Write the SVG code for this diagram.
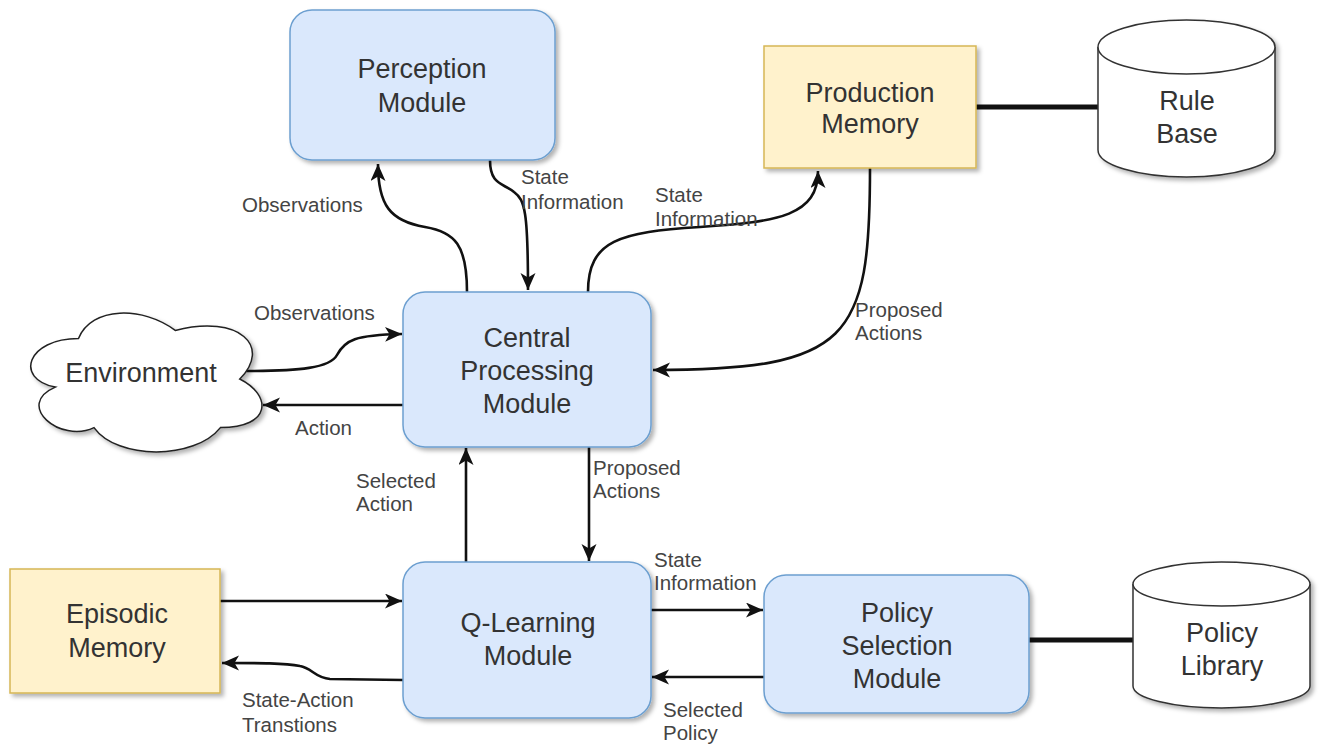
<svg xmlns="http://www.w3.org/2000/svg" width="1325" height="744" viewBox="0 0 1325 744">
  <style>
    .blue { fill: #dae8fc; stroke: #6c9fd0; stroke-width: 1.5; }
    .yellow { fill: #fff2cc; stroke: #d6b656; stroke-width: 1.5; }
    .store { fill: #ffffff; stroke: #333333; stroke-width: 1.5; }
    .cloud { fill: #ffffff; stroke: #222222; stroke-width: 1.5; }
    .node-text { font-family: "Liberation Sans", Arial, sans-serif; font-size: 27px; fill: #333333; text-anchor: middle; }
    .label { font-family: "Liberation Sans", Arial, sans-serif; font-size: 20.5px; fill: #444444; }
    .edge { fill: none; stroke: #111111; stroke-width: 2.6; }
    .link { fill: none; stroke: #111111; stroke-width: 5; }
  </style>
  <defs>
    <marker id="arrow" markerUnits="userSpaceOnUse" markerWidth="20" markerHeight="18" refX="17" refY="7.5" orient="auto">
      <path d="M0,0 L17,7.5 L0,15 L4.5,7.5 Z" fill="#111111"/>
    </marker>
    <filter id="shadow" x="-10%" y="-10%" width="125%" height="125%">
      <feDropShadow dx="3" dy="3" stdDeviation="2" flood-color="#000000" flood-opacity="0.3"/>
    </filter>
  </defs>

  <rect x="0" y="0" width="1325" height="744" fill="#ffffff"/>

  <!-- connectors -->
  <g id="connectors">
    <!-- central -> perception -->
    <path class="edge" marker-end="url(#arrow)" d="M467,292 C467,245 455,232 425,227 C390,221 378,205 378,164"/>
    <!-- perception -> central -->
    <path class="edge" marker-end="url(#arrow)" d="M490,160 C490,185 503,183 514,192 C525,200 528,212 528,290"/>
    <!-- central -> production memory -->
    <path class="edge" marker-end="url(#arrow)" d="M588,292 C588,240 620,232 700,227 C780,222 818,215 818,171"/>
    <!-- production memory -> central -->
    <path class="edge" marker-end="url(#arrow)" d="M870,168 C870,340 850,370 653,370"/>
    <!-- environment -> central -->
    <path class="edge" marker-end="url(#arrow)" d="M245,371 C300,371 330,368 337,355 C345,340 355,335 402,334"/>
    <!-- central -> environment -->
    <path class="edge" marker-end="url(#arrow)" d="M403,405 L263,405"/>
    <!-- q-learning -> central -->
    <path class="edge" marker-end="url(#arrow)" d="M466,562 L466,448"/>
    <!-- central -> q-learning -->
    <path class="edge" marker-end="url(#arrow)" d="M589,447 L589,561"/>
    <!-- episodic memory -> q-learning -->
    <path class="edge" marker-end="url(#arrow)" d="M220,601 L402,601"/>
    <!-- q-learning -> episodic memory -->
    <path class="edge" marker-end="url(#arrow)" d="M403,680 L330,679 C315,678 312,668 300,666 C285,663 260,663 222,663"/>
    <!-- q-learning -> policy selection -->
    <path class="edge" marker-end="url(#arrow)" d="M651,610 L763,610"/>
    <!-- policy selection -> q-learning -->
    <path class="edge" marker-end="url(#arrow)" d="M764,677 L652,677"/>
    <!-- store links -->
    <path class="link" d="M976,107 L1098,107"/>
    <path class="link" d="M1029,640 L1133,640"/>
  </g>

  <!-- connector labels -->
  <g id="edge-labels">
    <text class="label" x="242" y="212">Observations</text>
    <text class="label" x="521" y="184">State</text>
    <text class="label" x="521" y="209">Information</text>
    <text class="label" x="655" y="202">State</text>
    <text class="label" x="655" y="226">Information</text>
    <text class="label" x="855" y="317">Proposed</text>
    <text class="label" x="855" y="340">Actions</text>
    <text class="label" x="254" y="320">Observations</text>
    <text class="label" x="295" y="435">Action</text>
    <text class="label" x="356" y="488">Selected</text>
    <text class="label" x="356" y="511">Action</text>
    <text class="label" x="593" y="475">Proposed</text>
    <text class="label" x="593" y="498">Actions</text>
    <text class="label" x="654" y="567">State</text>
    <text class="label" x="654" y="590">Information</text>
    <text class="label" x="663" y="717">Selected</text>
    <text class="label" x="663" y="740">Policy</text>
    <text class="label" x="242" y="707">State-Action</text>
    <text class="label" x="242" y="732">Transtions</text>
  </g>

  <g id="perception-module">
    <rect class="blue" x="290" y="10" width="265" height="150" rx="22" filter="url(#shadow)"/>
    <text class="node-text" x="422" y="78">Perception</text>
    <text class="node-text" x="422" y="112">Module</text>
  </g>

  <g id="production-memory">
    <rect class="yellow" x="764" y="46" width="212" height="122" filter="url(#shadow)"/>
    <text class="node-text" x="870" y="102">Production</text>
    <text class="node-text" x="870" y="133">Memory</text>
  </g>

  <g id="rule-base">
    <path class="store" filter="url(#shadow)" d="M1098,47 A88.5,27 0 0 1 1275,47 L1275,150 A88.5,27 0 0 1 1098,150 Z"/>
    <path class="store" d="M1098,47 A88.5,27 0 0 0 1275,47"/>
    <text class="node-text" x="1187" y="110">Rule</text>
    <text class="node-text" x="1187" y="143">Base</text>
  </g>

  <g id="environment">
    <path class="cloud" filter="url(#shadow)" d="M78.5,338.5 C26.9,338.5 14,379 55.3,387.1 C14,404.9 60.4,443.8 94,427.6 C117.2,460 194.6,460 220.4,427.6 C272,427.6 272,395.2 239.75,379 C272,346.6 239.75,314.2 175.25,330.4 C143,306.1 91.4,306.1 78.5,338.5 Z"/>
    <text class="node-text" x="141" y="382">Environment</text>
  </g>

  <g id="central-processing-module">
    <rect class="blue" x="403" y="292" width="248" height="155" rx="22" filter="url(#shadow)"/>
    <text class="node-text" x="527" y="347">Central</text>
    <text class="node-text" x="527" y="380">Processing</text>
    <text class="node-text" x="527" y="413">Module</text>
  </g>

  <g id="q-learning-module">
    <rect class="blue" x="403" y="562" width="248" height="156" rx="22" filter="url(#shadow)"/>
    <text class="node-text" x="528" y="632">Q-Learning</text>
    <text class="node-text" x="528" y="665">Module</text>
  </g>

  <g id="episodic-memory">
    <rect class="yellow" x="10" y="569" width="210" height="124" filter="url(#shadow)"/>
    <text class="node-text" x="117" y="623">Episodic</text>
    <text class="node-text" x="117" y="657">Memory</text>
  </g>

  <g id="policy-selection-module">
    <rect class="blue" x="764" y="575" width="265" height="138" rx="22" filter="url(#shadow)"/>
    <text class="node-text" x="897" y="622">Policy</text>
    <text class="node-text" x="897" y="655">Selection</text>
    <text class="node-text" x="897" y="688">Module</text>
  </g>

  <g id="policy-library">
    <path class="store" filter="url(#shadow)" d="M1133,584 A88.5,22 0 0 1 1310,584 L1310,686 A88.5,22 0 0 1 1133,686 Z"/>
    <path class="store" d="M1133,584 A88.5,22 0 0 0 1310,584"/>
    <text class="node-text" x="1222" y="642">Policy</text>
    <text class="node-text" x="1222" y="675">Library</text>
  </g>
</svg>
